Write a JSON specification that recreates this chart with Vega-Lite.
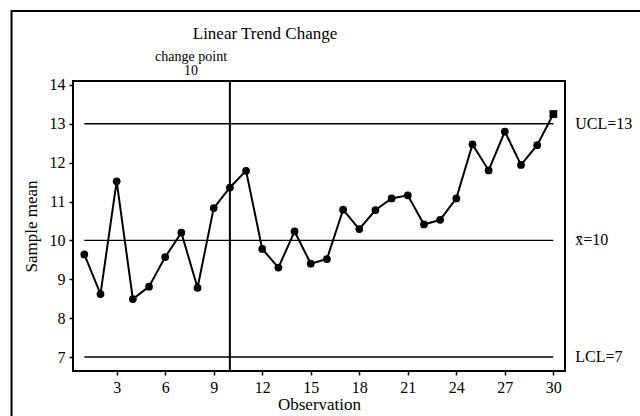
{
  "$schema": "https://vega.github.io/schema/vega-lite/v6.json",
  "autosize": {"type": "none"},
  "width": 492,
  "height": 290,
  "padding": {"left": 73, "top": 81, "right": 75, "bottom": 45},
  "background": "white",
  "title": {
    "text": "Linear Trend Change",
    "font": "Liberation Serif",
    "fontSize": 17,
    "fontWeight": "normal",
    "color": "black",
    "anchor": "middle",
    "dx": -54,
    "offset": -33
  },
  "config": {
    "view": {"stroke": "black", "strokeWidth": 2},
    "axis": {
      "grid": false,
      "domain": false,
      "labelFont": "Liberation Serif",
      "labelFontSize": 16,
      "labelColor": "black",
      "tickColor": "black",
      "tickWidth": 1.5,
      "titleFont": "Liberation Serif",
      "titleFontSize": 17,
      "titleFontWeight": "normal",
      "titleColor": "black"
    },
    "text": {"font": "Liberation Serif", "color": "black"}
  },
  "datasets": {
    "series": [
      {"obs": 1, "mean": 9.64, "status": "in"},
      {"obs": 2, "mean": 8.62, "status": "in"},
      {"obs": 3, "mean": 11.52, "status": "in"},
      {"obs": 4, "mean": 8.49, "status": "in"},
      {"obs": 5, "mean": 8.81, "status": "in"},
      {"obs": 6, "mean": 9.57, "status": "in"},
      {"obs": 7, "mean": 10.2, "status": "in"},
      {"obs": 8, "mean": 8.78, "status": "in"},
      {"obs": 9, "mean": 10.83, "status": "in"},
      {"obs": 10, "mean": 11.36, "status": "in"},
      {"obs": 11, "mean": 11.79, "status": "in"},
      {"obs": 12, "mean": 9.78, "status": "in"},
      {"obs": 13, "mean": 9.3, "status": "in"},
      {"obs": 14, "mean": 10.23, "status": "in"},
      {"obs": 15, "mean": 9.4, "status": "in"},
      {"obs": 16, "mean": 9.52, "status": "in"},
      {"obs": 17, "mean": 10.79, "status": "in"},
      {"obs": 18, "mean": 10.29, "status": "in"},
      {"obs": 19, "mean": 10.78, "status": "in"},
      {"obs": 20, "mean": 11.08, "status": "in"},
      {"obs": 21, "mean": 11.16, "status": "in"},
      {"obs": 22, "mean": 10.41, "status": "in"},
      {"obs": 23, "mean": 10.53, "status": "in"},
      {"obs": 24, "mean": 11.08, "status": "in"},
      {"obs": 25, "mean": 12.47, "status": "in"},
      {"obs": 26, "mean": 11.8, "status": "in"},
      {"obs": 27, "mean": 12.8, "status": "in"},
      {"obs": 28, "mean": 11.94, "status": "in"},
      {"obs": 29, "mean": 12.45, "status": "in"},
      {"obs": 30, "mean": 13.25, "status": "out"}
    ],
    "limits": [
      {"limit": 13, "label": "UCL=13"},
      {"limit": 10, "label": "x̄=10"},
      {"limit": 7, "label": "LCL=7"}
    ],
    "changeNotes": [
      {"obs": 7.6, "level": 14.72, "label": "change point"},
      {"obs": 7.6, "level": 14.36, "label": "10"}
    ],
    "single": [{}]
  },
  "layer": [
    {
      "data": {"name": "single"},
      "mark": {"type": "rect", "fill": null, "stroke": "black", "strokeWidth": 2, "clip": false},
      "encoding": {
        "x": {"datum": -3.5, "type": "quantitative", "scale": {"domain": [0.3, 30.72], "nice": false, "zero": false}},
        "x2": {"datum": 45},
        "y": {"datum": 15.9, "type": "quantitative", "scale": {"domain": [6.64, 14.1], "nice": false, "zero": false}},
        "y2": {"datum": 0}
      }
    },
    {
      "data": {"name": "limits"},
      "mark": {"type": "rule", "color": "black", "strokeWidth": 1.4},
      "encoding": {
        "x": {"datum": 1, "type": "quantitative"},
        "x2": {"datum": 30},
        "y": {"field": "limit", "type": "quantitative"}
      }
    },
    {
      "data": {"name": "limits"},
      "mark": {"type": "text", "align": "left", "baseline": "middle", "fontSize": 16, "clip": false},
      "encoding": {
        "x": {"datum": 31.35, "type": "quantitative"},
        "y": {"field": "limit", "type": "quantitative"},
        "text": {"field": "label"}
      }
    },
    {
      "data": {"name": "single"},
      "mark": {"type": "rule", "color": "black", "strokeWidth": 2},
      "encoding": {"x": {"datum": 10, "type": "quantitative"}}
    },
    {
      "data": {"name": "changeNotes"},
      "mark": {"type": "text", "align": "center", "baseline": "middle", "fontSize": 14, "clip": false},
      "encoding": {
        "x": {"field": "obs", "type": "quantitative"},
        "y": {"field": "level", "type": "quantitative"},
        "text": {"field": "label"}
      }
    },
    {
      "data": {"name": "series"},
      "mark": {"type": "line", "color": "black", "strokeWidth": 2},
      "encoding": {
        "x": {"field": "obs", "type": "quantitative"},
        "y": {"field": "mean", "type": "quantitative"}
      }
    },
    {
      "data": {"name": "series"},
      "mark": {"type": "point", "filled": true, "color": "black", "opacity": 1, "size": 60},
      "encoding": {
        "x": {
          "field": "obs",
          "type": "quantitative",
          "axis": {"values": [3, 6, 9, 12, 15, 18, 21, 24, 27, 30], "tickSize": 4, "labelPadding": 4, "title": "Observation", "titlePadding": 1}
        },
        "y": {
          "field": "mean",
          "type": "quantitative",
          "axis": {"values": [7, 8, 9, 10, 11, 12, 13, 14], "tickSize": 4, "labelPadding": 4, "title": "Sample mean", "titlePadding": 9}
        },
        "shape": {
          "field": "status",
          "type": "nominal",
          "scale": {"domain": ["in", "out"], "range": ["circle", "square"]},
          "legend": null
        }
      }
    }
  ]
}
